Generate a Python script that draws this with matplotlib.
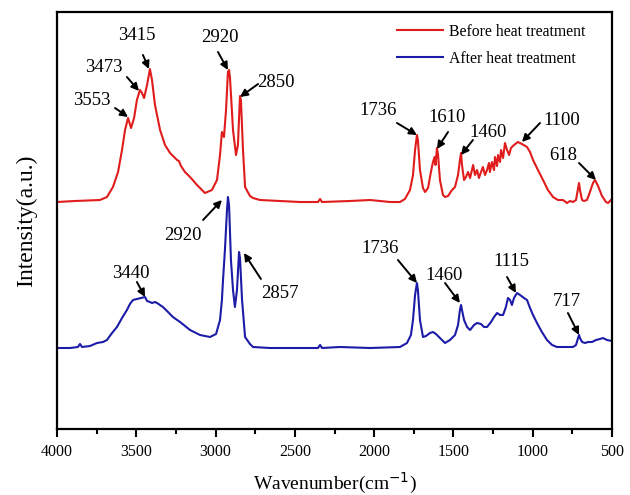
import matplotlib
matplotlib.use("Agg")
import matplotlib.pyplot as plt
from matplotlib.ticker import MultipleLocator

plt.rcParams['font.family'] = ['Liberation Serif', 'DejaVu Serif']

# ---- data (wavenumber in cm^-1, intensity in arbitrary units) ----
before_wn = [4000, 3886, 3729, 3685, 3647, 3615, 3590, 3571, 3552, 3533, 3514, 3496, 3477, 3464, 3451,
             3432, 3414, 3401, 3382, 3350, 3319, 3287, 3256, 3243, 3231, 3218, 3193, 3161, 3117, 3067,
             3023, 2991, 2972, 2960, 2947, 2934, 2922, 2915, 2909, 2890, 2871, 2859, 2846, 2840, 2827,
             2814, 2783, 2764, 2720, 2594, 2468, 2354, 2341, 2329, 2152, 2026, 1900, 1837, 1806, 1774,
             1755, 1742, 1730, 1724, 1711, 1692, 1679, 1660, 1642, 1629, 1619, 1613, 1604, 1597, 1585,
             1566, 1553, 1534, 1509, 1490, 1471, 1459, 1452, 1446, 1433, 1421, 1408, 1395, 1383, 1376,
             1364, 1351, 1339, 1326, 1314, 1301, 1288, 1276, 1270, 1257, 1244, 1238, 1225, 1219, 1206,
             1200, 1187, 1175, 1162, 1149, 1137, 1118, 1093, 1068, 1036, 1017, 998, 967, 935, 904,
             872, 841, 809, 784, 765, 746, 727, 714, 708, 702, 689, 677, 658, 639, 620,
             607, 588, 563, 538, 525, 513, 500]
before_int = [227, 228, 229, 232, 242, 257, 279, 299, 311, 301, 311, 329, 339, 336, 331,
              344, 360, 349, 324, 299, 284, 276, 271, 269, 268, 263, 257, 252, 244, 236,
              239, 249, 274, 297, 292, 319, 357, 359, 351, 299, 274, 284, 333, 329, 279,
              242, 233, 231, 229, 228, 227, 227, 230, 227, 228, 229, 227, 227, 230, 239,
              254, 279, 294, 289, 259, 241, 237, 241, 257, 267, 272, 264, 281, 274, 249,
              234, 232, 233, 239, 242, 254, 269, 276, 264, 249, 252, 257, 251, 259, 264,
              254, 259, 251, 257, 262, 254, 259, 266, 257, 267, 259, 272, 263, 274, 267,
              279, 271, 286, 279, 274, 281, 284, 287, 285, 282, 277, 269, 259, 249, 239,
              232, 229, 229, 226, 228, 227, 229, 241, 246, 239, 229, 228, 229, 237, 246,
              249, 243, 233, 227, 226, 228, 230]

after_wn = [4000, 3918, 3868, 3855, 3842, 3792, 3748, 3710, 3685, 3653, 3622, 3590, 3559, 3540, 3521,
            3496, 3470, 3445, 3432, 3414, 3401, 3382, 3369, 3332, 3300, 3269, 3224, 3161, 3098, 3035,
            2997, 2972, 2960, 2953, 2941, 2928, 2922, 2915, 2903, 2890, 2878, 2865, 2852, 2846, 2833,
            2814, 2783, 2764, 2657, 2468, 2354, 2341, 2329, 2215, 2026, 1837, 1793, 1768, 1755, 1742,
            1730, 1724, 1711, 1692, 1673, 1648, 1629, 1610, 1585, 1553, 1522, 1490, 1471, 1459, 1452,
            1446, 1433, 1414, 1395, 1370, 1351, 1326, 1307, 1288, 1263, 1244, 1225, 1206, 1187, 1169,
            1156, 1143, 1131, 1118, 1099, 1080, 1055, 1036, 1017, 998, 973, 942, 910, 878, 847,
            796, 746, 727, 714, 708, 702, 689, 670, 651, 626, 601, 576, 557, 532, 500]
after_int = [81, 81, 82, 85, 82, 83, 86, 87, 89, 96, 102, 111, 119, 125, 129,
             130, 131, 132, 128, 127, 126, 127, 126, 122, 117, 112, 107, 99, 94, 92,
             95, 109, 129, 149, 179, 219, 232, 224, 169, 139, 122, 139, 177, 171, 129,
             92, 85, 82, 81, 81, 81, 84, 81, 82, 81, 82, 86, 94, 109, 134,
             146, 139, 109, 92, 93, 96, 97, 95, 91, 86, 89, 94, 104, 119, 124,
             119, 109, 102, 99, 104, 106, 105, 102, 102, 107, 112, 116, 114, 114, 122,
             131, 129, 124, 131, 136, 134, 131, 129, 121, 114, 106, 97, 89, 84, 82,
             82, 82, 84, 91, 94, 91, 87, 86, 87, 87, 89, 90, 91, 89, 88]

series_labels = ["Before heat treatment", "After heat treatment"]
x_ticks = [4000, 3500, 3000, 2500, 2000, 1500, 1000, 500]

# peak labels: (text, text position, arrow tail, arrow tip)
before_peaks = [
    ("3553", (3779, 329), (3634, 321), (3552, 312)),
    ("3473", (3704, 362), (3559, 352), (3483, 338)),
    ("3415", (3496, 394), (3458, 374), (3420, 360)),
    ("2920", (2972, 392), (2985, 377), (2922, 359)),
    ("2850", (2619, 347), (2732, 345), (2846, 332)),
    ("1736", (1976, 319), (1856, 306), (1730, 294)),
    ("1610", (1541, 312), (1534, 297), (1604, 280)),
    ("1460", (1282, 297), (1377, 289), (1452, 274)),
    ("1100", (815, 309), (954, 306), (1068, 287)),
    ("618", (809, 274), (708, 266), (601, 249)),
]
after_peaks = [
    ("2920", (3205, 194), (3079, 209), (2960, 229)),
    ("3440", (3533, 156), (3496, 147), (3445, 132)),
    ("2857", (2594, 136), (2714, 150), (2821, 176)),
    ("1736", (1963, 181), (1850, 169), (1730, 146)),
    ("1460", (1560, 153), (1553, 146), (1459, 126)),
    ("1115", (1137, 167), (1162, 152), (1106, 136)),
    ("717", (784, 127), (778, 116), (708, 94)),
]

# ---- figure ----
fig = plt.figure(figsize=(6.3, 4.95), dpi=100)
ax = fig.add_axes([57 / 630, 66 / 495, 555 / 630, 417 / 495])

ax.plot(before_wn, before_int, color='#e01c1c', lw=1.5, label=series_labels[0])
ax.plot(after_wn, after_int, color='#1c1ca8', lw=1.5, label=series_labels[1])

ax.set_xlim(4000, 500)
ax.set_ylim(0, 417)
ax.set_xticks(x_ticks)
ax.xaxis.set_minor_locator(MultipleLocator(250))
ax.tick_params(axis='x', which='major', direction='out', length=6, width=1.5,
               labelsize=11.5, pad=5, top=False)
ax.tick_params(axis='x', which='minor', direction='out', length=3.5, width=1.5, top=False)
ax.set_yticks([])
for s in ax.spines.values():
    s.set_linewidth(1.6)

ax.set_xlabel("Wavenumber(cm$^{-1}$)", fontsize=14, labelpad=8)
ax.set_ylabel("Intensity(a.u.)", fontsize=17, labelpad=14)

for peaks in (before_peaks, after_peaks):
    for txt, tpos, tail, tip in peaks:
        ax.annotate('', xy=tip, xytext=tail,
                    arrowprops=dict(arrowstyle='-|>', color='black', lw=1.4,
                                    mutation_scale=11, shrinkA=0, shrinkB=0))
        ax.text(tpos[0], tpos[1], txt, ha='center', va='center', fontsize=13.5)

leg = ax.legend(loc='upper left', bbox_to_anchor=(0.6126, 0.972), frameon=False,
                fontsize=11.3, handlelength=2.9, handletextpad=0.4, labelspacing=0.72,
                borderpad=0, borderaxespad=0)

fig.savefig("out.png", dpi=100)
